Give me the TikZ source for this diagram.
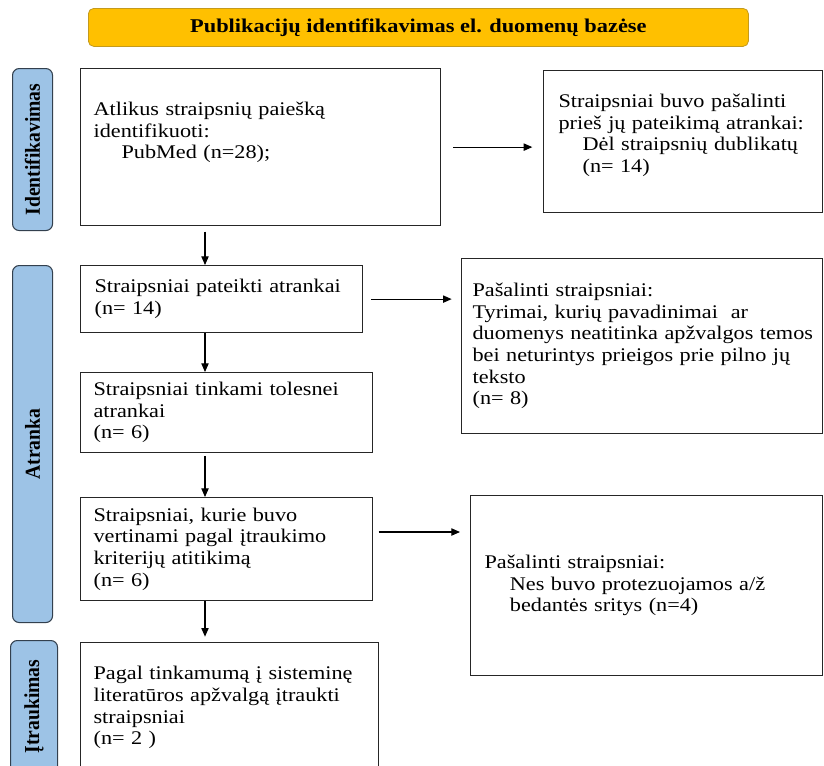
\documentclass[tikz,border=0pt]{standalone}
\usepackage{fontspec}
\setmainfont{Liberation Serif}[FakeStretch=1.15]
\newfontfamily\phasefont{Liberation Serif}[FakeStretch=0.92]
\usetikzlibrary{arrows.meta}

\definecolor{headgold}{HTML}{FFC000}
\definecolor{headedge}{HTML}{C49A1C}
\definecolor{phaseblue}{HTML}{9DC3E6}
\definecolor{phaseedge}{HTML}{33404E}

\tikzset{
  stepbox/.style={draw=black!85, line width=0.9pt, anchor=north west, align=left,
    inner xsep=2pt, inner ysep=0pt, font=\fontsize{14.5pt}{16.2pt}\selectfont},
  textinset/.style={execute at begin node={\leftskip=#1}},
  header/.style={draw=headedge, line width=0.6pt, fill=headgold, rounded corners=4pt,
    anchor=north west, font=\bfseries\fontsize{14.6pt}{16pt}\selectfont},
  phase/.style={draw=phaseedge, line width=0.8pt, fill=phaseblue, rounded corners=5pt,
    anchor=north west, inner sep=0pt, font=\phasefont\bfseries\fontsize{16pt}{18pt}\selectfont},
  flowarrow/.style={-{Triangle[length=6.5pt,width=5.5pt]}, line width=0.8pt},
}

\begin{document}
\begin{tikzpicture}[x=0.75pt, y=-0.75pt]
  \useasboundingbox (0,0) rectangle (824,765);
  \clip (0,0) rectangle (824,765);

  \node[header, minimum width=495pt, minimum height=28.5pt] (title) at (88,8)
    {Publikacijų identifikavimas el. duomenų bazėse};

  \node[phase, minimum width=30pt, minimum height=121.5pt] (phaseid) at (12,68)
    {\rotatebox{90}{Identifikavimas}};
  \node[phase, minimum width=30pt, minimum height=267.75pt] (phasesel) at (12,265)
    {\rotatebox{90}{Atranka}};
  \node[phase, minimum width=35.25pt, minimum height=99pt] (phaseinc) at (10,640)
    {\rotatebox{90}{Įtraukimas}};

  \node[stepbox, text width=266pt, minimum height=117.75pt, textinset=7.75pt] (search) at (80,68)
    {Atlikus straipsnių paiešką\\
     identifikuoti:\\
     \hspace*{21pt}PubMed (n=28);\\[8.5pt]\mbox{}};
  \node[stepbox, text width=205.25pt, minimum height=106.5pt, textinset=9.25pt] (dupl) at (543,70)
    {Straipsniai buvo pašalinti\\
     prieš jų pateikimą atrankai:\\
     \hspace*{18pt}Dėl straipsnių dublikatų\\
     \hspace*{18pt}(n= 14)\\[-3.5pt]\mbox{}};

  \node[stepbox, text width=207.5pt, minimum height=50.25pt, textinset=8.5pt] (screened) at (80,265)
    {Straipsniai pateikti atrankai\\
     (n= 14)};
  \node[stepbox, text width=266.75pt, minimum height=131.25pt, textinset=6.25pt] (excl1) at (461,258)
    {Pašalinti straipsniai:\\
     Tyrimai, kurių pavadinimai\ \ ar\\
     duomenys neatitinka apžvalgos temos\\
     bei neturintys prieigos prie pilno jų\\
     teksto\\
     (n= 8)};
  \node[stepbox, text width=215pt, minimum height=60pt, textinset=7.75pt] (eligible) at (80,372)
    {Straipsniai tinkami tolesnei\\
     atrankai\\
     (n= 6)};
  \node[stepbox, text width=215pt, minimum height=77.25pt, textinset=7.75pt] (assessed) at (80,497)
    {Straipsniai, kurie buvo\\
     vertinami pagal įtraukimo\\
     kriterijų atitikimą\\
     (n= 6)};
  \node[stepbox, text width=260pt, minimum height=135pt, textinset=8.5pt] (excl2) at (470,495)
    {Pašalinti straipsniai:\\
     \hspace*{19pt}Nes buvo protezuojamos a/ž\\
     \hspace*{19pt}bedantės sritys (n=4)};

  \node[stepbox, text width=219.5pt, minimum height=97.5pt, textinset=7.75pt] (included) at (80,642)
    {Pagal tinkamumą į sisteminę\\
     literatūros apžvalgą įtraukti\\
     straipsniai\\
     (n= 2 )};

  \coordinate (spine) at (205,0);
  \coordinate (assout) at ([yshift=-26.25pt]assessed.north east);

  \draw[flowarrow, shorten <=9pt, shorten >=8pt] (search.east) -- (search.east -| dupl.west);
  \draw[flowarrow, shorten <=4pt] (search.south -| spine) -- (screened.north -| spine);
  \draw[flowarrow, shorten <=6pt, shorten >=7pt] (screened.east) -- (screened.east -| excl1.west);
  \draw[flowarrow] (screened.south -| spine) -- (eligible.north -| spine);
  \draw[flowarrow, shorten <=2pt] (eligible.south -| spine) -- (assessed.north -| spine);
  \draw[flowarrow, shorten <=4pt, shorten >=7.5pt] (assout) -- (assout -| excl2.west);
  \draw[flowarrow, shorten >=4pt] (assessed.south -| spine) -- (included.north -| spine);
\end{tikzpicture}
\end{document}
